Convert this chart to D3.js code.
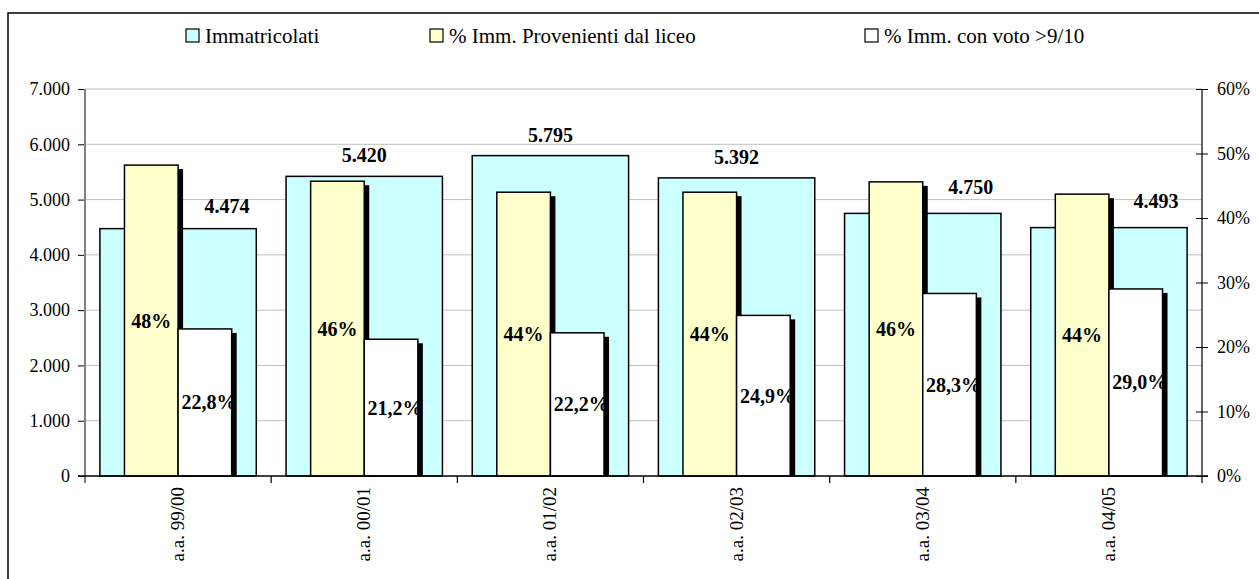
<!DOCTYPE html>
<html>
<head>
<meta charset="utf-8">
<script src="https://cdn.jsdelivr.net/npm/d3@7"></script>
<style>
  html, body { margin: 0; padding: 0; background: #fff; }
  svg text { font-family: 'Liberation Serif', 'Times New Roman', Tinos, 'DejaVu Serif', serif !important; }
</style>
</head>
<body>
<svg id="chart" width="1259" height="579"></svg>
<script>
// ---- data ----
const categories = ["a.a. 99/00", "a.a. 00/01", "a.a. 01/02", "a.a. 02/03", "a.a. 03/04", "a.a. 04/05"];
const immatricolati = [4474, 5420, 5795, 5392, 4750, 4493];
const pctLiceo = [0.482, 0.457, 0.440, 0.440, 0.456, 0.437];
const pctLiceoLabels = ["48%", "46%", "44%", "44%", "46%", "44%"];
const pctVoto = [0.228, 0.212, 0.222, 0.249, 0.283, 0.290];
const leftTicks = [0, 1000, 2000, 3000, 4000, 5000, 6000, 7000];
const rightTicks = [0, 0.1, 0.2, 0.3, 0.4, 0.5, 0.6];
const legendLabels = ["Immatricolati", "% Imm. Provenienti dal liceo", "% Imm. con voto >9/10"];

// ---- layout / style ----
const FONT = "'Liberation Serif', 'Times New Roman', Tinos, 'DejaVu Serif', serif";
const colors = ["#CCFFFF", "#FFFFCC", "#FFFFFF"];
const plot = { left: 85, right: 1202, top: 89, bottom: 476 };
const blueLabelDx = [49, 0, 0, 0, 48, 47];
const blueLabelDy = [16, 14, 14, 14, 19, 20];
const legendX = [186, 430, 865];
const shadow = { dx: 5, dy: 4 };

const it = d3.formatLocale({ decimal: ",", thousands: ".", grouping: [3], currency: ["", "€"] });
const fmtInt = it.format(",d");
const fmtPct1 = it.format(".1%");
const fmtPct0 = it.format(".0%");

const svg = d3.select("#chart");

// border
svg.append("rect").attr("x", 8).attr("y", 13).attr("width", 1300).attr("height", 700)
  .attr("fill", "#fff").attr("stroke", "#000").attr("stroke-width", 1.5);

const x = d3.scaleBand().domain(categories).range([plot.left, plot.right]).paddingInner(0).paddingOuter(0);
const yL = d3.scaleLinear().domain([0, 7000]).range([plot.bottom, plot.top]);
const yR = d3.scaleLinear().domain([0, 0.6]).range([plot.bottom, plot.top]);
const bw = x.bandwidth();
const blueW = bw * 0.84;
const subW = bw * 0.288;

// gridlines
svg.append("g").selectAll("line").data(leftTicks.filter(d => d > 0)).join("line")
  .attr("x1", plot.left).attr("x2", plot.right)
  .attr("y1", d => yL(d)).attr("y2", d => yL(d))
  .attr("stroke", "#c0c0c0").attr("stroke-width", 1);

// blue bars
svg.append("g").selectAll("rect").data(immatricolati).join("rect")
  .attr("x", (d, i) => x(categories[i]) + (bw - blueW) / 2)
  .attr("y", d => yL(d))
  .attr("width", blueW)
  .attr("height", d => yL(0) - yL(d))
  .attr("fill", colors[0]).attr("stroke", "#000").attr("stroke-width", 1.5);

function cx(i) { return x(categories[i]) + bw / 2; }

// yellow shadows + bars
svg.append("g").selectAll("rect").data(pctLiceo).join("rect")
  .attr("x", (d, i) => cx(i) - subW + shadow.dx)
  .attr("y", d => yR(d) + shadow.dy)
  .attr("width", subW)
  .attr("height", d => yR(0) - yR(d) - shadow.dy)
  .attr("fill", "#000");
svg.append("g").selectAll("rect").data(pctLiceo).join("rect")
  .attr("x", (d, i) => cx(i) - subW)
  .attr("y", d => yR(d))
  .attr("width", subW)
  .attr("height", d => yR(0) - yR(d))
  .attr("fill", colors[1]).attr("stroke", "#000").attr("stroke-width", 1.5);

// white shadows + bars
svg.append("g").selectAll("rect").data(pctVoto).join("rect")
  .attr("x", (d, i) => cx(i) + shadow.dx)
  .attr("y", d => yR(d) + shadow.dy)
  .attr("width", subW)
  .attr("height", d => yR(0) - yR(d) - shadow.dy)
  .attr("fill", "#000");
svg.append("g").selectAll("rect").data(pctVoto).join("rect")
  .attr("x", (d, i) => cx(i))
  .attr("y", d => yR(d))
  .attr("width", subW)
  .attr("height", d => yR(0) - yR(d))
  .attr("fill", colors[2]).attr("stroke", "#000").attr("stroke-width", 1.5);

// labels
const lab = svg.append("g").attr("font-weight", "bold").attr("font-size", 20).attr("fill", "#000").attr("text-anchor", "middle");
lab.selectAll("text.b").data(immatricolati).join("text").attr("class", "b")
  .attr("x", (d, i) => cx(i) + blueLabelDx[i])
  .attr("y", (d, i) => yL(d) - blueLabelDy[i])
  .text(d => fmtInt(d));
lab.selectAll("text.y").data(pctLiceo).join("text").attr("class", "y")
  .attr("x", (d, i) => cx(i) - subW / 2)
  .attr("y", d => (yR(d) + yR(0)) / 2)
  .attr("dy", "0.35em")
  .text((d, i) => pctLiceoLabels[i]);
lab.selectAll("text.w").data(pctVoto).join("text").attr("class", "w")
  .attr("x", (d, i) => cx(i) + subW / 2 + 4)
  .attr("y", d => (yR(d) + yR(0)) / 2)
  .attr("dy", "0.35em")
  .text(d => fmtPct1(d));

// left axis
const gL = svg.append("g").attr("transform", `translate(${plot.left},0)`)
  .call(d3.axisLeft(yL).tickValues(leftTicks).tickFormat(d => fmtInt(d)).tickSize(7).tickPadding(8));
gL.attr("font-family", FONT).attr("font-size", 18);
gL.select(".domain").remove();
gL.selectAll(".tick line").attr("stroke", "#000");
svg.append("line").attr("x1", plot.left).attr("x2", plot.left).attr("y1", plot.top).attr("y2", plot.bottom + 7)
  .attr("stroke", "#808080").attr("stroke-width", 2);

// right axis
const gR = svg.append("g").attr("transform", `translate(${plot.right},0)`)
  .call(d3.axisRight(yR).tickValues(rightTicks).tickFormat(d => fmtPct0(d)).tickSizeInner(6).tickSizeOuter(0).tickPadding(9));
gR.attr("font-family", FONT).attr("font-size", 18);
gR.select(".domain").remove();
gR.selectAll(".tick line").attr("x1", -6).attr("x2", 6).attr("stroke", "#000");
svg.append("line").attr("x1", plot.right).attr("x2", plot.right).attr("y1", plot.top).attr("y2", plot.bottom + 7)
  .attr("stroke", "#000").attr("stroke-width", 1.2);

// x axis
svg.append("line").attr("x1", plot.left - 7).attr("x2", plot.right + 6).attr("y1", plot.bottom).attr("y2", plot.bottom)
  .attr("stroke", "#000").attr("stroke-width", 1.5);
svg.append("g").selectAll("line").data(categories.slice(1)).join("line")
  .attr("x1", d => x(d)).attr("x2", d => x(d))
  .attr("y1", plot.bottom).attr("y2", plot.bottom + 7)
  .attr("stroke", "#000").attr("stroke-width", 1.2);
svg.append("g").selectAll("text").data(categories).join("text")
  .attr("transform", d => `translate(${x(d) + bw / 2 + 6},${plot.bottom + 11}) rotate(-90)`)
  .attr("text-anchor", "end")
  .attr("font-size", 19)
  .text(d => d);

// legend
const leg = svg.append("g");
legendLabels.forEach((t, i) => {
  leg.append("rect").attr("x", legendX[i]).attr("y", 29).attr("width", 13).attr("height", 13)
    .attr("fill", colors[i]).attr("stroke", "#000").attr("stroke-width", 1.2);
  leg.append("text").attr("x", legendX[i] + 19).attr("y", 42.5).attr("font-size", 21).text(t);
});
</script>
</body>
</html>
